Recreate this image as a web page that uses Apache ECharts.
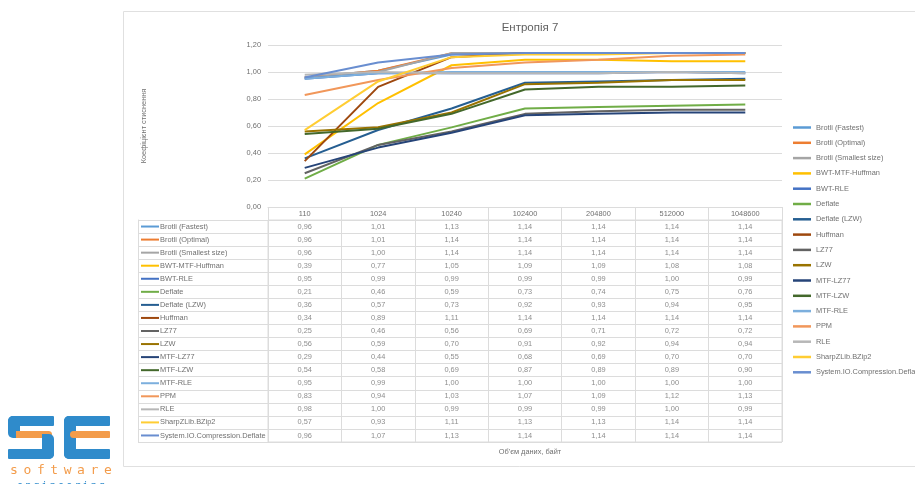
<!DOCTYPE html>
<html>
<head>
<meta charset="utf-8">
<script src="https://cdn.jsdelivr.net/npm/echarts@6/dist/echarts.min.js"></script>
<style>
  html, body { margin: 0; padding: 0; background: #ffffff; }
  #chart { width: 915px; height: 484px; }
</style>
</head>
<body>
<div id="chart"></div>
<script>
// Data volume, bytes
const categories = ['110', '1024', '10240', '102400', '204800', '512000', '1048600'];

const seriesNames = [
  'Brotli (Fastest)', 'Brotli (Optimal)', 'Brotli (Smallest size)', 'BWT-MTF-Huffman',
  'BWT-RLE', 'Deflate', 'Deflate (LZW)', 'Huffman', 'LZ77', 'LZW', 'MTF-LZ77', 'MTF-LZW',
  'MTF-RLE', 'PPM', 'RLE', 'SharpZLib.BZip2', 'System.IO.Compression.Deflate'
];

// Compression ratio per algorithm
const brotliFastest  = [0.96, 1.01, 1.13, 1.14, 1.14, 1.14, 1.14];
const brotliOptimal  = [0.96, 1.01, 1.14, 1.14, 1.14, 1.14, 1.14];
const brotliSmallest = [0.96, 1.00, 1.14, 1.14, 1.14, 1.14, 1.14];
const bwtMtfHuffman  = [0.39, 0.77, 1.05, 1.09, 1.09, 1.08, 1.08];
const bwtRle         = [0.95, 0.99, 0.99, 0.99, 0.99, 1.00, 0.99];
const deflate        = [0.21, 0.46, 0.59, 0.73, 0.74, 0.75, 0.76];
const deflateLzw     = [0.36, 0.57, 0.73, 0.92, 0.93, 0.94, 0.95];
const huffman        = [0.34, 0.89, 1.11, 1.14, 1.14, 1.14, 1.14];
const lz77           = [0.25, 0.46, 0.56, 0.69, 0.71, 0.72, 0.72];
const lzw            = [0.56, 0.59, 0.70, 0.91, 0.92, 0.94, 0.94];
const mtfLz77        = [0.29, 0.44, 0.55, 0.68, 0.69, 0.70, 0.70];
const mtfLzw         = [0.54, 0.58, 0.69, 0.87, 0.89, 0.89, 0.90];
const mtfRle         = [0.95, 0.99, 1.00, 1.00, 1.00, 1.00, 1.00];
const ppm            = [0.83, 0.94, 1.03, 1.07, 1.09, 1.12, 1.13];
const rle            = [0.98, 1.00, 0.99, 0.99, 0.99, 1.00, 0.99];
const sharpZipBzip2  = [0.57, 0.93, 1.11, 1.13, 1.13, 1.14, 1.14];
const systemDeflate  = [0.96, 1.07, 1.13, 1.14, 1.14, 1.14, 1.14];

const yTicks = { min: 0, max: 1.2, interval: 0.2 };

const seriesValues = [
  brotliFastest, brotliOptimal, brotliSmallest, bwtMtfHuffman, bwtRle, deflate,
  deflateLzw, huffman, lz77, lzw, mtfLz77, mtfLzw, mtfRle, ppm, rle, sharpZipBzip2, systemDeflate
];

const palette = [
  '#5B9BD5', '#ED7D31', '#A5A5A5', '#FFC000', '#4472C4', '#70AD47', '#255E91', '#9E480E',
  '#636363', '#997300', '#264478', '#43682B', '#7CAFDD', '#F1975A', '#B7B7B7', '#FFCD33', '#698ED0'
];

const FONT = '"Liberation Sans", Arial, sans-serif';
const TEXT = '#707070';
const RULE = '#dcdcdc';
const fmt = v => Number(v).toFixed(2).replace('.', ',');

// Legend-key swatches for the table's name column
const rich = { t: { fontSize: 7.4, color: TEXT, fontFamily: FONT, verticalAlign: 'middle', padding: [0, 0, 0, 1] } };
palette.forEach((c, i) => {
  rich['k' + i] = { width: 18, height: 2, backgroundColor: c, verticalAlign: 'middle' };
});

// Cells of the data table: [category index, series index, value]
const tableCells = [];
seriesValues.forEach((vals, i) => {
  vals.forEach((v, j) => tableCells.push([j, i, v]));
});

const lineSeries = seriesNames.map((name, i) => ({
  name: name,
  type: 'line',
  xAxisIndex: 0,
  yAxisIndex: 0,
  data: seriesValues[i],
  symbol: 'none',
  lineStyle: { width: 2, color: palette[i] },
  itemStyle: { color: palette[i] },
  emphasis: { disabled: true }
}));

// Logo shapes
const BLUE = '#2F8BCB';
const ORANGE = '#F39C4B';
const logo = [
  // S
  { type: 'rect', shape: { x: 8, y: 416, width: 46, height: 10, r: [5, 1, 1, 1] }, style: { fill: BLUE } },
  { type: 'rect', shape: { x: 8, y: 416, width: 12, height: 22, r: [5, 0, 0, 5] }, style: { fill: BLUE } },
  { type: 'rect', shape: { x: 16, y: 431, width: 36, height: 7, r: [0, 4, 4, 0] }, style: { fill: ORANGE } },
  { type: 'rect', shape: { x: 42, y: 434, width: 12, height: 25, r: [0, 5, 5, 0] }, style: { fill: BLUE } },
  { type: 'rect', shape: { x: 8, y: 449, width: 46, height: 10, r: [1, 1, 5, 1] }, style: { fill: BLUE } },
  // E
  { type: 'rect', shape: { x: 64, y: 416, width: 12, height: 43, r: [5, 0, 0, 5] }, style: { fill: BLUE } },
  { type: 'rect', shape: { x: 64, y: 416, width: 46, height: 10, r: [5, 1, 1, 1] }, style: { fill: BLUE } },
  { type: 'rect', shape: { x: 70, y: 431, width: 40, height: 7, r: [4, 1, 1, 4] }, style: { fill: ORANGE } },
  { type: 'rect', shape: { x: 64, y: 449, width: 46, height: 10, r: [1, 1, 1, 5] }, style: { fill: BLUE } }
];
'software'.split('').forEach((ch, i) => {
  logo.push({ type: 'text', x: 14 + i * 13.4, y: 471, style: {
    text: ch, fill: ORANGE, font: '13px "DejaVu Sans Mono", monospace', textAlign: 'center', textVerticalAlign: 'middle' } });
});
'engineering'.split('').forEach((ch, i) => {
  logo.push({ type: 'text', x: 20 + i * 8.2, y: 486, style: {
    text: ch, fill: BLUE, font: '10px "DejaVu Sans Mono", monospace', textAlign: 'center', textVerticalAlign: 'middle' } });
});

const chart = echarts.init(document.getElementById('chart'), null, { renderer: 'canvas' });

chart.setOption({
  animation: false,
  backgroundColor: '#ffffff',
  textStyle: { fontFamily: FONT },
  title: [
    { text: 'Ентропія 7', left: 525, top: 17, textAlign: 'center',
      textStyle: { fontSize: 11.5, fontWeight: 'normal', color: '#606060', fontFamily: FONT } },
    { text: "Об'єм даних, байт", left: 525, top: 443, textAlign: 'center',
      textStyle: { fontSize: 7.4, fontWeight: 'normal', color: TEXT, fontFamily: FONT } }
  ],
  graphic: [
    { type: 'rect', z: -10, shape: { x: 123.5, y: 11.5, width: 820, height: 455 },
      style: { fill: '#ffffff', stroke: '#e0e0e0', lineWidth: 1 } }
  ].concat(logo),
  legend: {
    data: seriesNames,
    orient: 'vertical',
    left: 788,
    top: 117,
    icon: 'rect',
    itemWidth: 18,
    itemHeight: 2.5,
    itemGap: 4.3,
    textStyle: { fontSize: 7.4, color: TEXT, fontFamily: FONT, lineHeight: 11 },
    selectedMode: false
  },
  grid: [
    { left: 268, right: 133, top: 45, bottom: 277, outerBoundsMode: 'none' },
    { left: 268, right: 133, top: 220, bottom: 42, show: true, borderColor: RULE, borderWidth: 1,
      backgroundColor: 'transparent', outerBoundsMode: 'none' }
  ],
  xAxis: [
    { type: 'category', gridIndex: 0, data: categories, boundaryGap: true,
      axisLine: { show: true, lineStyle: { color: RULE } },
      axisTick: { show: false }, axisLabel: { show: false }, splitLine: { show: false } },
    { type: 'category', gridIndex: 1, data: categories, boundaryGap: true, position: 'top',
      axisLine: { show: true, lineStyle: { color: RULE } },
      axisTick: { show: true, length: 13, alignWithLabel: false, lineStyle: { color: RULE } },
      axisLabel: { show: true, interval: 0, margin: 3, fontSize: 7.4, color: TEXT, fontFamily: FONT },
      splitLine: { show: true, lineStyle: { color: RULE } } }
  ],
  yAxis: [
    { type: 'value', gridIndex: 0, min: yTicks.min, max: yTicks.max, interval: yTicks.interval,
      name: 'Коефіцієнт стиснення', nameLocation: 'middle', nameGap: 121, nameRotate: 90,
      nameTextStyle: { fontSize: 7.4, color: TEXT, fontFamily: FONT },
      axisLine: { show: false }, axisTick: { show: false },
      axisLabel: { formatter: fmt, fontSize: 7.4, color: TEXT, margin: 7, fontFamily: FONT },
      splitLine: { show: true, lineStyle: { color: RULE } } },
    { type: 'category', gridIndex: 1, data: seriesNames, inverse: true, boundaryGap: true,
      axisLine: { show: true, lineStyle: { color: RULE } },
      axisTick: { show: true, length: 130, alignWithLabel: false, lineStyle: { color: RULE } },
      axisLabel: { show: true, interval: 0, margin: 127, align: 'left',
        formatter: (v, i) => '{k' + i + '|}{t|' + v + '}', rich: rich },
      splitLine: { show: true, lineStyle: { color: RULE } } },
    { type: 'category', gridIndex: 1, data: seriesNames, inverse: true, position: 'left', offset: 130,
      axisLine: { show: true, lineStyle: { color: RULE } },
      axisTick: { show: false }, axisLabel: { show: false }, splitLine: { show: false } }
  ],
  series: lineSeries.concat([{
    name: 'table',
    type: 'scatter',
    xAxisIndex: 1,
    yAxisIndex: 1,
    data: tableCells,
    symbolSize: 1,
    itemStyle: { color: 'rgba(0,0,0,0)' },
    label: { show: true, position: 'inside', formatter: p => fmt(p.value[2]),
      fontSize: 7.4, color: TEXT, fontFamily: FONT },
    emphasis: { disabled: true },
    silent: true
  }])
});
</script>
</body>
</html>
